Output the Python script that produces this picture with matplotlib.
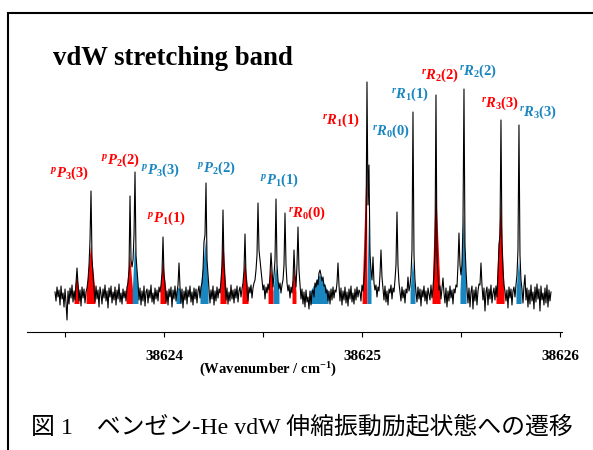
import numpy as np
import matplotlib.pyplot as plt
from matplotlib.patches import Rectangle

# ---------------------------
# Data
# ---------------------------
# Spectrum on an even wavenumber grid (arb. intensity, baseline = 0)
wn_start = 38623.4495
wn_step = 0.00505
intensity = [
    0.03, -0.06, 0.08, -0.02, 0.05, -0.10, 0.09, -0.04, 0.02, -0.12,
    0.06, -0.08, -0.25, 0.04, -0.09, 0.07, -0.03, 0.10, -0.07, 0.04,
    -0.05, 0.12, 0.27, 0.10, -0.06, 0.05, -0.11, 0.08, -0.03, 0.06,
    -0.08, 0.03, 0.07, 0.15, 0.30, 0.55, 1.04, 0.35, 0.20, 0.06,
    -0.07, 0.09, -0.04, 0.05, -0.12, 0.08, 0.01, -0.09, 0.06, -0.03,
    0.10, -0.06, 0.04, -0.13, 0.07, -0.02, 0.09, -0.08, 0.03, -0.05,
    0.08, -0.10, 0.05, -0.04, 0.11, -0.07, 0.02, -0.09, 0.06, -0.03,
    0.04, -0.06, 0.08, 0.12, 0.25, 0.99, 0.35, 0.28, 0.35, 0.60,
    1.23, 0.40, 0.25, 0.12, -0.05, 0.07, -0.10, 0.04, -0.06, 0.09,
    -0.11, 0.03, 0.06, -0.08, 0.05, -0.03, 0.10, -0.07, 0.02, -0.09,
    0.07, -0.04, 0.05, -0.06, 0.08, 0.03, 0.10, 0.22, 0.58, 0.20,
    0.10, -0.07, 0.04, -0.10, 0.06, -0.02, 0.08, -0.12, 0.05, -0.04,
    0.09, -0.06, 0.03, 0.10, 0.32, 0.08, -0.08, 0.06, -0.13, 0.04,
    -0.05, 0.08, -0.09, 0.05, -0.02, 0.09, -0.07, 0.03, -0.10, 0.07,
    -0.04, 0.06, -0.08, 0.04, 0.09, -0.03, 0.08, 0.12, 0.25, 0.53,
    0.60, 1.12, 0.35, 0.20, 0.06, -0.08, 0.05, -0.04, 0.09, -0.10,
    0.04, -0.06, 0.08, -0.03, 0.06, 0.02, 0.15, 0.30, 0.85, 0.30,
    0.12, -0.05, 0.07, -0.09, 0.03, -0.06, 0.10, -0.04, 0.05, -0.08,
    0.06, -0.03, 0.09, -0.07, 0.04, 0.08, -0.02, 0.06, 0.12, 0.25,
    0.61, 0.20, 0.05, -0.06, 0.08, 0.02, 0.10, -0.03, 0.07, 0.12,
    0.15, 0.25, 0.40, 0.92, 0.45, 0.35, 0.25, 0.15, 0.05, 0.10,
    -0.04, 0.08, 0.02, 0.11, 0.05, 0.20, 0.42, 0.25, 0.08, 0.20,
    0.35, 0.96, 0.30, 0.15, 0.06, 0.12, 0.02, 0.10, 0.15, 0.30,
    0.82, 0.30, 0.12, 0.04, 0.10, -0.03, 0.08, 0.02, 0.15, 0.45,
    0.20, 0.08, 0.30, 0.68, 0.25, 0.10, -0.04, 0.06, -0.09, 0.03,
    -0.12, 0.05, -0.07, -0.02, -0.14, 0.04, -0.10, 0.02, 0.05, -0.02,
    0.12, 0.08, 0.15, 0.10, 0.22, 0.25, 0.20, 0.14, 0.18, 0.09,
    0.10, 0.02, 0.05, -0.06, 0.04, -0.09, 0.06, -0.05, 0.08, -0.03,
    0.05, 0.03, 0.12, 0.32, 0.10, -0.06, 0.07, -0.10, 0.04, -0.05,
    0.08, -0.08, 0.03, -0.11, 0.06, -0.04, 0.09, -0.07, 0.02, -0.09,
    0.06, -0.05, 0.08, -0.02, 0.05, 0.03, -0.06, 0.10, 0.04, 0.15,
    0.30, 0.60, 2.13, 0.90, 1.30, 0.40, 0.25, 0.15, 0.38, 0.12,
    0.05, 0.10, -0.02, 0.08, 0.04, 0.20, 0.45, 0.18, 0.06, -0.05,
    0.09, -0.07, 0.04, -0.10, 0.06, 0.02, 0.10, -0.04, 0.07, 0.03,
    0.15, 0.30, 0.83, 0.30, 0.12, 0.03, -0.06, 0.08, -0.03, 0.05,
    -0.08, 0.06, 0.02, 0.18, 0.04, 0.09, 0.20, 0.45, 1.83, 0.40,
    0.15, 0.03, -0.07, 0.08, -0.04, 0.06, -0.11, 0.05, -0.02, 0.09,
    -0.06, 0.04, -0.09, 0.07, 0.01, -0.05, 0.10, -0.03, 0.06, 0.20,
    0.45, 2.00, 0.40, 0.20, 0.05, 0.09, -0.04, 0.06, 0.17, 0.02,
    -0.08, 0.07, -0.12, 0.04, -0.06, 0.09, -0.03, 0.05, -0.09, 0.06,
    0.02, 0.10, 0.08, 0.30, 0.62, 0.30, 0.20, 0.30, 0.70, 2.06,
    0.50, 0.25, 0.06, -0.08, 0.07, -0.12, 0.03, 0.09, -0.14, 0.05,
    -0.06, 0.08, -0.10, 0.04, 0.11, 0.10, 0.32, 0.10, -0.05, 0.07,
    -0.16, 0.03, 0.08, -0.10, 0.06, -0.04, 0.10, -0.08, 0.02, 0.07,
    -0.05, 0.09, -0.02, 0.20, 0.50, 0.60, 1.75, 0.50, 0.25, 0.10,
    0.04, -0.06, 0.05, -0.13, 0.08, -0.03, 0.06, -0.10, 0.04, 0.08,
    -0.02, 0.10, 0.20, 0.45, 1.70, 0.40, 0.15, 0.06, -0.08, 0.09,
    0.20, -0.05, 0.07, -0.12, 0.05, -0.09, 0.10, -0.06, 0.03, -0.14,
    0.08, -0.07, 0.11, -0.04, 0.06, -0.16, 0.09, -0.05, 0.02, -0.10,
    0.07, -0.08, 0.10, -0.12, 0.05, -0.06, 0.03,
]

# Shaded (assigned) lines: wavenumber window, top of shading, colour group
fill_from = [38623.548, 38623.609, 38623.811, 38623.842, 38623.982,
             38624.063, 38624.184, 38624.285, 38624.396, 38624.528,
             38624.553, 38624.649, 38624.740, 38625.003, 38625.027,
             38625.245, 38625.356, 38625.497, 38625.679, 38625.780]
fill_to = [38623.573, 38623.654, 38623.844, 38623.871, 38624.013,
           38624.088, 38624.225, 38624.316, 38624.427, 38624.553,
           38624.583, 38624.669, 38624.831, 38625.027, 38625.048,
           38625.270, 38625.397, 38625.528, 38625.720, 38625.806]
fill_top = [0.20, 0.50, 0.40, 0.50, 0.35,
            0.08, 0.55, 0.60, 0.35, 0.30,
            0.30, 0.30, 0.20, 1.40, 0.80,
            0.35, 1.10, 0.80, 0.95, 0.35]
fill_group = ['red', 'red', 'red', 'blue', 'red',
              'blue', 'blue', 'red', 'red', 'red',
              'blue', 'red', 'blue', 'red', 'blue',
              'blue', 'red', 'blue', 'red', 'blue']
fill_floor = -0.09
fill_edge = 0.03

# Line assignments
label_text = [r'${}^{p}P_{3}(3)$', r'${}^{p}P_{2}(2)$', r'${}^{p}P_{3}(3)$',
              r'${}^{p}P_{1}(1)$', r'${}^{p}P_{2}(2)$', r'${}^{p}P_{1}(1)$',
              r'${}^{r}R_{0}(0)$', r'${}^{r}R_{1}(1)$', r'${}^{r}R_{0}(0)$',
              r'${}^{r}R_{1}(1)$', r'${}^{r}R_{2}(2)$', r'${}^{r}R_{2}(2)$',
              r'${}^{r}R_{3}(3)$', r'${}^{r}R_{3}(3)$']
label_group = ['red', 'red', 'blue', 'red', 'blue', 'blue', 'red',
               'red', 'blue', 'blue', 'red', 'blue', 'red', 'blue']
label_wn = [38623.525, 38623.778, 38623.980, 38624.015, 38624.263, 38624.581,
            38624.722, 38624.894, 38625.146, 38625.242, 38625.394, 38625.586,
            38625.697, 38625.889]
label_y = [1.22, 1.35, 1.25, 0.77, 1.27, 1.15, 0.82,
           1.75, 1.64, 2.01, 2.20, 2.24, 1.92, 1.83]

tick_wn = [38624, 38625, 38626]
tick_labels = ['38624', '38625', '38626']
minor_wn = [38623.5, 38624.5, 38625.5]

colors = {'red': '#ff0000', 'blue': '#1a86c0'}

# ---------------------------
# Fonts
# ---------------------------
plt.rcParams['font.family'] = ['Liberation Serif', 'Noto Sans CJK JP']
plt.rcParams['mathtext.fontset'] = 'custom'
plt.rcParams['mathtext.rm'] = 'Liberation Serif:bold'
plt.rcParams['mathtext.it'] = 'Liberation Serif:italic:bold'
plt.rcParams['mathtext.bf'] = 'Liberation Serif:bold'

# ---------------------------
# Figure
# ---------------------------
W, H = 593, 450
fig = plt.figure(figsize=(W / 100, H / 100), dpi=100)

# Outer frame (runs off the right and bottom edges)
frame = Rectangle((8 / W, -0.2), 1.5, 1 - 13 / H + 0.2, transform=fig.transFigure,
                  fill=False, edgecolor='black', linewidth=1.5)
fig.patches.append(frame)

ax = fig.add_axes([27 / W, (H - 332) / H, (562 - 27) / W, (332 - 40) / H])

wn = wn_start + wn_step * np.arange(len(intensity))
sig = np.array(intensity)

# Coloured wedge under each assigned line, apex at the line maximum
for lo, hi, top, grp in zip(fill_from, fill_to, fill_top, fill_group):
    m = (wn >= lo) & (wn <= hi)
    xc = wn[m][np.argmax(sig[m])]
    edge = min(top, fill_edge)
    ax.fill([lo, lo, xc, hi, hi], [fill_floor, edge, top, edge, fill_floor],
            color=colors[grp], linewidth=0)

ax.plot(wn, sig, color='black', linewidth=0.8)

for txt, grp, x, y in zip(label_text, label_group, label_wn, label_y):
    ax.text(x, y, txt, color=colors[grp], fontsize=10.5, ha='center', va='center')

# Axis settings
ax.set_xlim(38623.308, 38626.010)
ax.set_ylim(-0.37, 2.55)
for side in ['left', 'right', 'top']:
    ax.spines[side].set_visible(False)
ax.spines['bottom'].set_linewidth(0.8)
ax.set_yticks([])
ax.set_xticks(tick_wn, labels=tick_labels)
ax.set_xticks(minor_wn, minor=True)
ax.tick_params(axis='x', which='both', direction='out', length=3.6, width=0.8)
ax.tick_params(axis='x', which='major', pad=9, labelsize=11)
for lab in ax.get_xticklabels():
    lab.set_fontweight('bold')
ax.patch.set_visible(False)

fig.text(267.5 / W, 1 - 370 / H, r'(Wavenumber / cm$^{-1}$)', fontsize=10.5,
         fontweight='bold', ha='center', va='center')
fig.text(53 / W, 1 - 65 / H, 'vdW stretching band', fontsize=19.3,
         fontweight='bold', ha='left', va='baseline')
fig.text(31 / W, 1 - 433 / H, '図 1\u3000ベンゼン-He vdW 伸縮振動励起状態への遷移',
         fontsize=17.2, ha='left', va='baseline')

fig.savefig('out.png', dpi=100)
